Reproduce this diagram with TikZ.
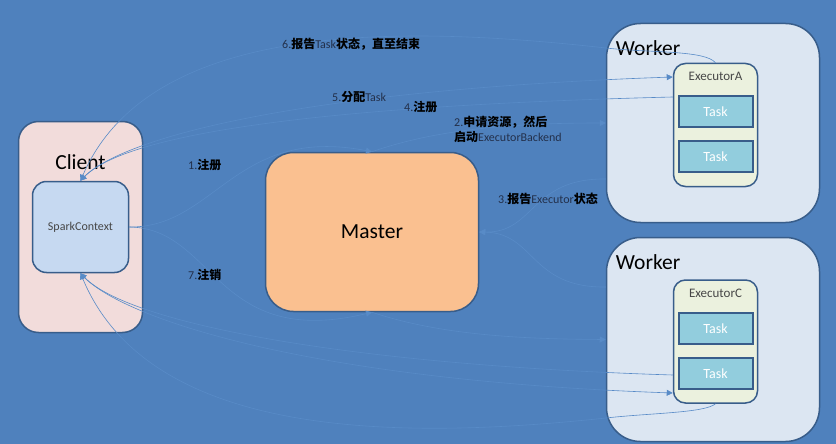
\documentclass[tikz,border=0pt]{standalone}
\usepackage{fontspec}
\setmainfont{Carlito}
\newfontfamily\cjk{Noto Sans CJK SC}
\usetikzlibrary{calc,positioning,arrows.meta}
\definecolor{bgblue}{RGB}{79,129,189}
\definecolor{edgeblue}{RGB}{56,93,138}
\definecolor{wirecol}{RGB}{88,139,199}
\definecolor{clientfill}{RGB}{242,220,219}
\definecolor{scfill}{RGB}{198,217,241}
\definecolor{masterfill}{RGB}{250,192,144}
\definecolor{workerfill}{RGB}{220,230,242}
\definecolor{execfill}{RGB}{235,241,222}
\definecolor{taskfill}{RGB}{146,205,221}
\definecolor{lbltext}{RGB}{35,48,75}
\definecolor{graytext}{RGB}{70,70,70}
\newcommand{\zh}[1]{{\cjk\bfseries\color{black}#1}}
\tikzset{
  box/.style={draw=edgeblue, line width=1.5pt, inner sep=0pt},
  clientbox/.style={box, fill=clientfill, rounded corners=20pt, minimum width=124pt, minimum height=211pt},
  scbox/.style={box, fill=scfill, rounded corners=14pt, minimum width=96pt, minimum height=91pt,
    text=graytext, font=\fontsize{12}{14}\selectfont},
  masterbox/.style={box, fill=masterfill, rounded corners=28pt, minimum width=213pt, minimum height=159pt,
    font=\fontsize{21.5}{25}\selectfont},
  workerbox/.style={box, fill=workerfill, rounded corners=34pt, minimum width=213pt},
  execbox/.style={box, fill=execfill, rounded corners=12pt, minimum width=84pt, minimum height=123pt},
  exectxt/.style={inner sep=0pt, text=graytext, font=\fontsize{13}{15}\selectfont},
  taskbox/.style={box, line width=2pt, fill=taskfill, minimum width=74pt, minimum height=31pt,
    text=white, font=\fontsize{14}{16}\selectfont},
  bigtxt/.style={inner sep=0pt, font=\fontsize{21.5}{24}\selectfont},
  wire/.style={draw=wirecol, line width=0.6pt, -{Triangle[length=6pt,width=6pt]}},
  lbl/.style={inner sep=0pt, anchor=west, text=lbltext, font=\fontsize{12}{15}\selectfont},
}
% name, y centre, height, executor
\newcommand{\WorkerBox}[4]{%
  \node[workerbox, minimum height=#3] (#1) at (713,#2) {};
  \node[bigtxt, anchor=west] (#1w) at ($(#1.north west)+(10,25)$) {Worker};
  \node[execbox] (#1e) at (715.5,#2+2) {};
  \node[exectxt] (#1t) at ($(#1e.north)+(0,14)$) {#4};
  \node[taskbox, below=14pt of #1t] (#1a) {Task};
  \node[taskbox, below=12pt of #1a] (#1b) {Task};
}

\begin{document}
\begin{tikzpicture}[x=1pt,y=-1pt]
  \fill[bgblue] (0,0) rectangle (836,444);
  \useasboundingbox (0,0) rectangle (836,444);
  % client
  \node[clientbox] (CL) at (80.5,227) {};
  \node[scbox] (SC) at (80.5,227) {SparkContext};
  \node[bigtxt, above=11pt of SC] (CLt) {Client};
  % master
  \node[masterbox] (M) at (372,232) {Master};
  % workers
  \WorkerBox{W1}{123}{199}{ExecutorA}
  \WorkerBox{W2}{339.5}{204}{ExecutorC}
  % ends on the boxes
  \coordinate (w1out) at ($(W1.west)+(0,56)$);
  \coordinate (w2out) at ($(W2.west)+(0,-52.5)$);
  \coordinate (ea5) at ($(W1e.west)+(0,-48)$);
  \coordinate (ea4) at ($(W1e.west)+(0,-28)$);
  \coordinate (ec5) at ($(W2e.west)+(0,51.5)$);
  \coordinate (ec4) at ($(W2e.west)+(0,33.5)$);
  \coordinate (w6a) at (606,48);
  \coordinate (w6c) at (606,418);
  % wires
  \draw[wire] (SC.east) .. controls (215,228) and (235,125) .. (M.north);
  \draw[wire] (SC.east) .. controls (215,228) and (215,350) .. (M.south);
  \draw[wire] (M.north) .. controls (440,128) and (520,123) .. (W1.west);
  \draw[wire] (M.south) .. controls (440,335) and (520,339) .. (W2.west);
  \draw[wire] (w1out) .. controls (530,178) and (535,233) .. (M.east);
  \draw[wire] (w2out) .. controls (530,288) and (535,233) .. (M.east);
  \draw[wire] (ea4) .. controls (350,105) and (130,130) .. (SC.north);
  \draw[wire] (SC.north) .. controls (115,138) and (300,90) .. (ea5);
  \draw[wire] (W1e.north) .. controls (705,50) and (650,53) .. (w6a)
    .. controls (400,25) and (150,20) .. (SC.north);
  \draw[wire] (ec4) .. controls (350,365) and (130,324) .. (SC.south);
  \draw[wire] (SC.south) .. controls (115,316) and (300,380) .. (ec5);
  \draw[wire] (W2e.south) .. controls (705,413) and (650,413) .. (w6c)
    .. controls (400,440) and (150,440) .. (SC.south);
  % labels
  \node[lbl] (L6) at (282,44) {6.\zh{报告}Task\zh{状态，直至结束}};
  \node[lbl] (L5) at (332,97) {5.\zh{分配}Task};
  \node[lbl] (L4) at (404,107) {4.\zh{注册}};
  \node[lbl, align=left] (L2) at (454,129.5) {2.\zh{申请资源，然后}\\\zh{启动}ExecutorBackend};
  \node[lbl] (L1) at (188,165) {1.\zh{注册}};
  \node[lbl] (L3) at (498,199) {3.\zh{报告}Executor\zh{状态}};
  \node[lbl] (L7) at (188,275) {7.\zh{注销}};
\end{tikzpicture}
\end{document}
